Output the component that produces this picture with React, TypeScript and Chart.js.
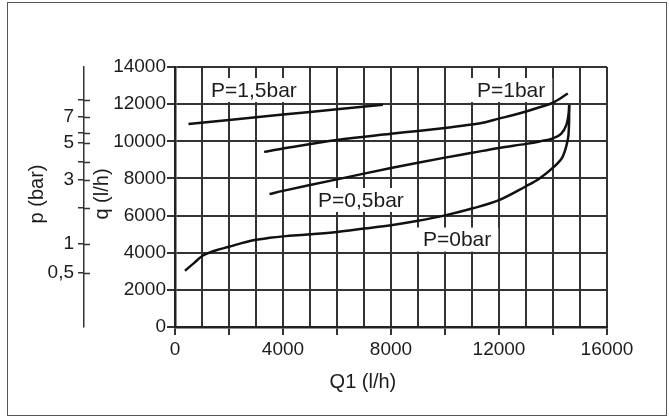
import React, { useEffect, useRef } from 'react';
import { Chart, registerables } from 'chart.js';

Chart.register(...registerables);

// ---- data ----
const curveNames = ['P=1,5bar', 'P=1bar', 'P=0,5bar', 'P=0bar'];

const q1_p15 = [500, 2000, 4000, 6000, 7700];
const q_p15 = [10930, 11150, 11440, 11720, 11970];

const q1_p10 = [3300, 4000, 6000, 8000, 9000, 10000, 11000, 11500, 12000, 12500, 13000, 13500, 14000, 14550];
const q_p10 = [9430, 9610, 10070, 10400, 10560, 10720, 10900, 11030, 11220, 11400, 11600, 11830, 12080, 12570];

const q1_p05 = [3500, 4000, 6000, 8000, 10000, 11000, 12000, 13000, 13500, 14000, 14300, 14500, 14580, 14600];
const q_p05 = [7160, 7330, 7950, 8560, 9120, 9380, 9640, 9860, 9990, 10160, 10400, 10900, 11500, 11950];

const q1_p00 = [370, 700, 1040, 1500, 2000, 2500, 2900, 3500, 4000, 5000, 6000, 7000, 8000, 9000, 10000, 11000, 12000, 13000, 13500, 14000, 14350, 14550, 14590, 14600];
const q_p00 = [3030, 3440, 3850, 4120, 4320, 4530, 4670, 4800, 4880, 4990, 5120, 5300, 5480, 5720, 6010, 6380, 6830, 7580, 8000, 8580, 9150, 10100, 10800, 11950];

// curve label anchors (Q1, q) in data units
const labelQ1 = [1333, 11185, 5296, 9185];
const labelQ = [12760, 12760, 6840, 4710];

// pressure scale of the nomogram: positions on the q scale and their labels
const pTickValues = [12220, 11310, 10450, 9910, 8890, 7920, 6410, 4470, 2910];
const pTickLabels = ['', '7', '', '5', '', '3', '', '1', '0,5'];

const xTitle = 'Q1 (l/h)';
const qTitle = 'q (l/h)';
const pTitle = 'p (bar)';

const FONT = '"Liberation Sans", Arial, Helvetica, sans-serif';
const INK = '#1c1c1c';
const GRID = '#333';

const series = [
  [q1_p15, q_p15],
  [q1_p10, q_p10],
  [q1_p05, q_p05],
  [q1_p00, q_p00],
];

const annotate = {
  id: 'annotate',
  beforeDatasetsDraw(chart: any) {
    const ctx = chart.ctx as CanvasRenderingContext2D;
    const x = chart.scales.x;
    const y = chart.scales.y;
    const p = chart.scales.p;
    const area = chart.chartArea;
    ctx.save();
    // right-hand halves of the pressure ticks
    ctx.strokeStyle = GRID;
    ctx.lineWidth = 1.5;
    p.ticks.forEach((t: any) => {
      const py = Math.round(p.getPixelForValue(t.value)) + 0.5;
      ctx.beginPath();
      ctx.moveTo(p.right, py);
      ctx.lineTo(p.right + 6, py);
      ctx.stroke();
    });
    // curve labels on white boxes
    ctx.font = '21px ' + FONT;
    ctx.textBaseline = 'middle';
    ctx.textAlign = 'left';
    curveNames.forEach((name, i) => {
      const lx = x.getPixelForValue(labelQ1[i]);
      const ly = y.getPixelForValue(labelQ[i]);
      const w = ctx.measureText(name).width;
      ctx.fillStyle = '#fff';
      ctx.fillRect(lx - 7, ly - 12, w + 14, 24);
      ctx.fillStyle = INK;
      ctx.fillText(name, lx, ly + 1);
    });
    // axis titles
    ctx.font = '20px ' + FONT;
    ctx.textAlign = 'center';
    ctx.fillStyle = INK;
    ctx.fillText(xTitle, x.left + (x.right - x.left) * 0.435, x.bottom + 15);
    const cy = (area.top + area.bottom) / 2 - 3;
    const draw = (t: string, cx: number) => {
      ctx.save();
      ctx.translate(cx, cy);
      ctx.rotate(-Math.PI / 2);
      ctx.fillText(t, 0, 0);
      ctx.restore();
    };
    draw(qTitle, y.left + 18);
    draw(pTitle, p.left + 17);
    ctx.restore();
  },
};

export default function App() {
  const ref = useRef<HTMLCanvasElement>(null);
  useEffect(() => {
    if (!ref.current) return;
    const chart = new Chart(ref.current, {
      type: 'scatter',
      data: {
        datasets: series.map(([xs, ys], i) => ({
          label: curveNames[i],
          data: xs.map((v, k) => ({ x: v, y: ys[k] })),
          showLine: true,
          borderColor: '#111',
          borderWidth: 2.5,
          pointRadius: 0,
          tension: 0.35,
          fill: false,
          yAxisID: 'y',
        })),
      },
      options: {
        responsive: false,
        devicePixelRatio: 1,
        animation: false,
        events: [],
        layout: { padding: { left: 20, top: 67, right: 62, bottom: 51 } },
        plugins: { legend: { display: false }, tooltip: { enabled: false } },
        scales: {
          x: {
            type: 'linear',
            position: 'bottom',
            min: 0,
            max: 16000,
            afterFit: (s: any) => { s.height = 40; },
            grid: {
              color: GRID,
              lineWidth: 2,
              tickLength: 8,
              tickWidth: 2,
              tickColor: (c: any) => (c.tick && c.tick.value % 2000 === 0 ? GRID : 'rgba(0,0,0,0)'),
            },
            border: { color: '#222', width: 2.5 },
            ticks: {
              stepSize: 1000,
              autoSkip: false,
              maxRotation: 0,
              padding: 3,
              color: INK,
              font: { family: FONT, size: 19 },
              callback: (v: any) => (Number(v) % 4000 === 0 ? String(v) : ''),
            },
          },
          y: {
            type: 'linear',
            position: 'left',
            weight: 0,
            min: 0,
            max: 14000,
            afterFit: (s: any) => { s.width = 91; },
            grid: { color: GRID, lineWidth: 2, tickLength: 8, tickWidth: 2 },
            border: { color: '#222', width: 2.5 },
            ticks: {
              stepSize: 2000,
              autoSkip: false,
              padding: 1,
              color: INK,
              font: { family: FONT, size: 19 },
              callback: (v: any) => String(v),
            },
          },
          p: {
            type: 'linear',
            position: 'left',
            weight: 10,
            min: 0,
            max: 14000,
            afterFit: (s: any) => { s.width = 64; },
            afterBuildTicks: (s: any) => { s.ticks = pTickValues.map((v) => ({ value: v })); },
            grid: { drawOnChartArea: false, color: GRID, lineWidth: 1.5, tickLength: 6 },
            border: { color: '#333', width: 1.5 },
            ticks: {
              autoSkip: false,
              padding: 4,
              color: INK,
              font: { family: FONT, size: 19 },
              callback: (_v: any, i: number) => pTickLabels[i],
            },
          },
        },
      },
      plugins: [annotate],
    } as any);
    return () => chart.destroy();
  }, []);

  return (
    <div style={{ position: 'fixed', left: 0, top: 0, width: 669, height: 418, background: '#fff' }}>
      <canvas ref={ref} width={669} height={418} style={{ display: 'block' }} />
      <div
        style={{
          position: 'absolute',
          left: 7,
          top: 2,
          width: 660,
          height: 414,
          border: '1px solid #555',
          boxSizing: 'border-box',
          pointerEvents: 'none',
        }}
      />
    </div>
  );
}
